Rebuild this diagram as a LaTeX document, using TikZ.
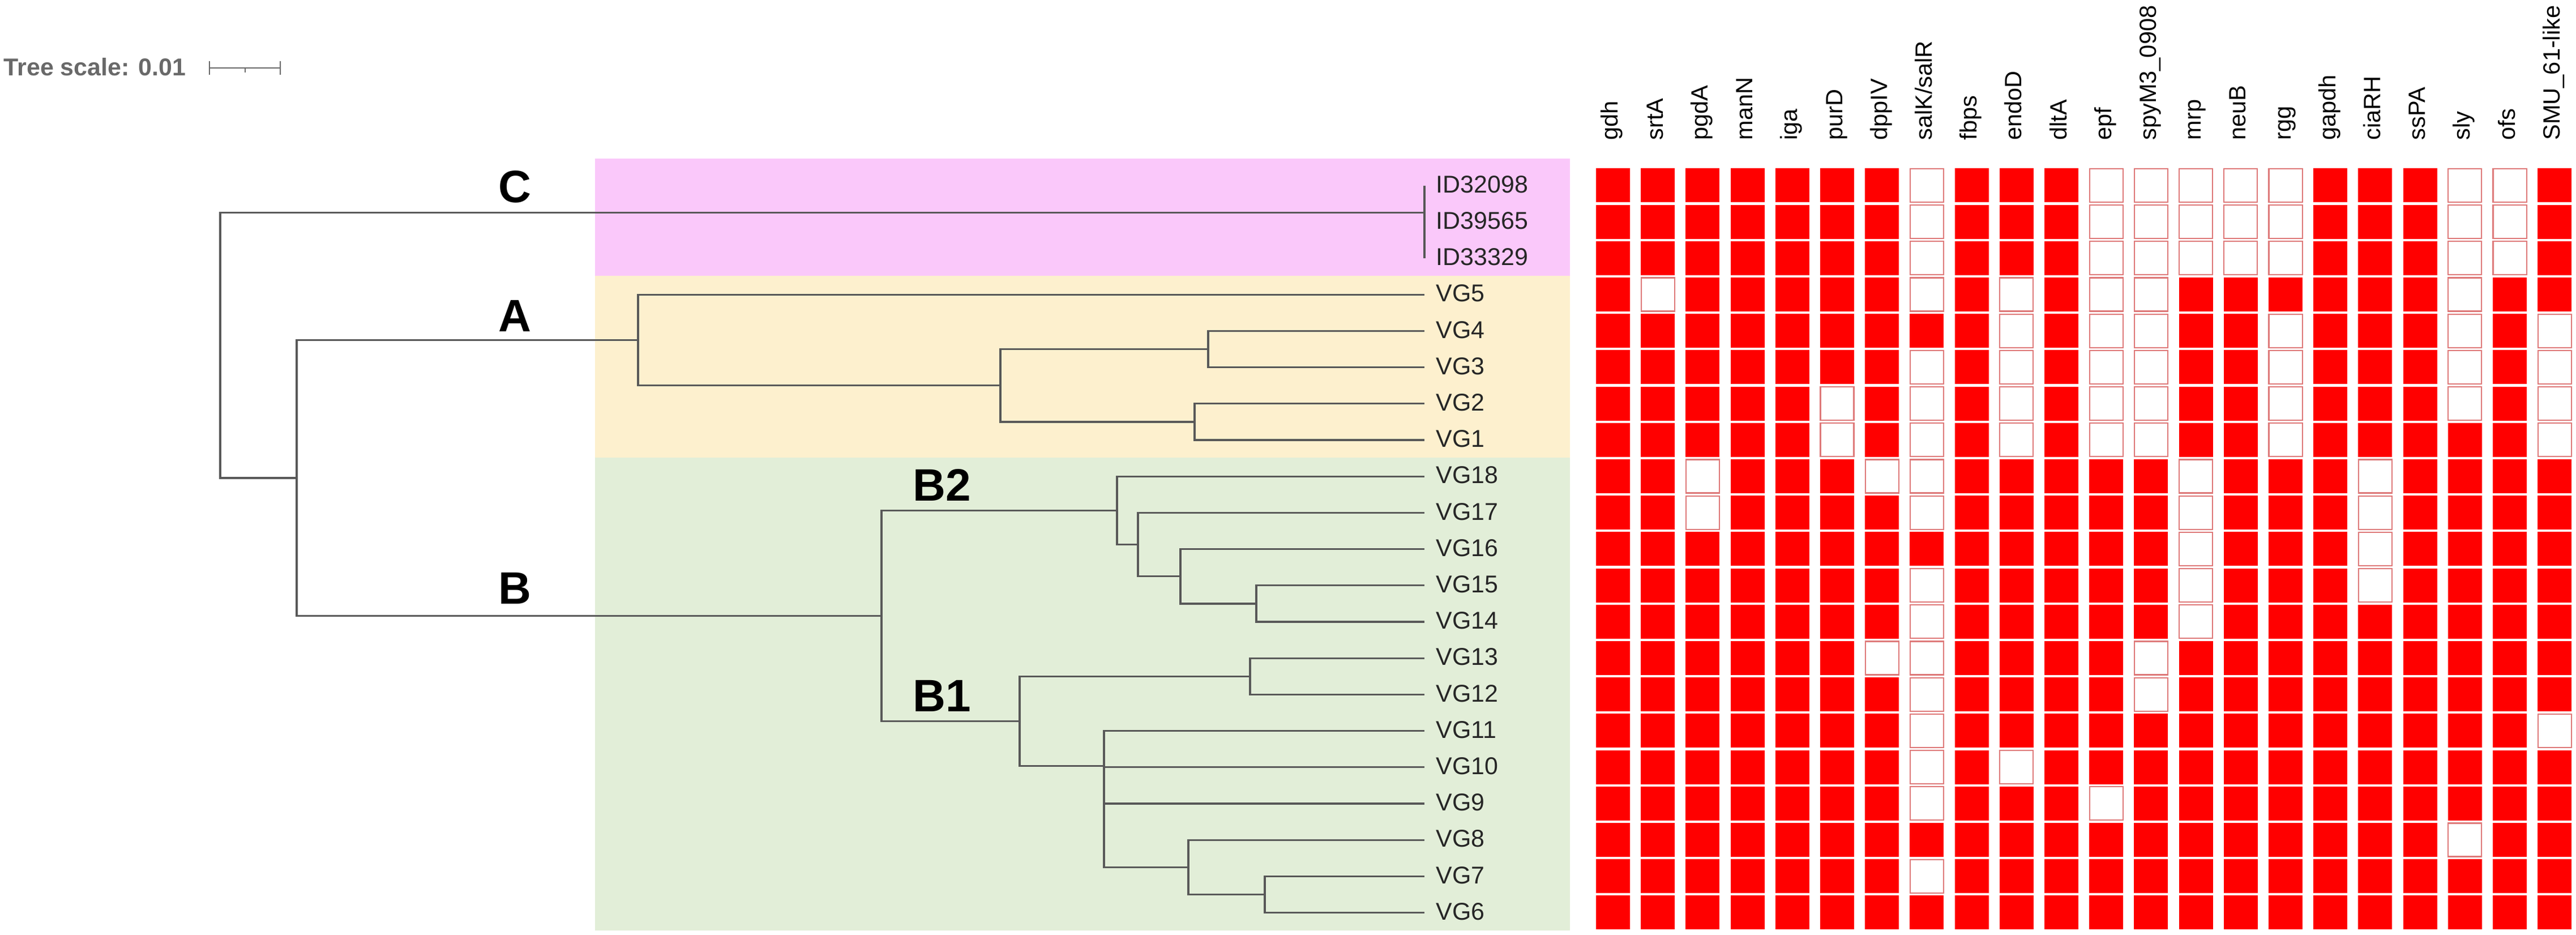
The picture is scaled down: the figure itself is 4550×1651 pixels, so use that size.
\documentclass[tikz,border=0pt]{standalone}
\usepackage{fontspec}
\setmainfont{Liberation Sans}
\usetikzlibrary{positioning}
\definecolor{bandC}{RGB}{250,200,250}
\definecolor{bandA}{RGB}{253,240,206}
\definecolor{bandB}{RGB}{226,238,216}
\definecolor{branchgray}{RGB}{88,88,88}
\definecolor{hitred}{RGB}{255,0,0}
\definecolor{missred}{RGB}{222,120,120}
\definecolor{scalegray}{RGB}{105,105,105}
\tikzset{
  branch/.style={draw=branchgray, line width=0.95pt},
  leaf/.style={anchor=west, inner xsep=0.2cm, inner ysep=0pt, text height=0.72em, text depth=0pt, text=black!85, font=\fontsize{12.2}{14}\selectfont},
  clade/.style={anchor=base, inner sep=0pt, font=\fontsize{22.8}{26}\selectfont\bfseries},
  gene/.style={rotate=90, anchor=west, inner sep=0pt, text height=0.72em, text depth=0.21em, font=\fontsize{11.8}{14}\selectfont},
  cell1/.style={fill=hitred, minimum size=0.6cm, inner sep=0pt},
  cell0/.style={fill=white, draw=missred, line width=0.6pt, minimum size=0.59cm, inner sep=0pt},
}

\begin{document}
\begin{tikzpicture}[x=0.01cm, y=-0.01cm]
      \useasboundingbox (0,0) rectangle (4550,1651);
      %% clade bands
      \fill[bandC] (1051,280) rectangle (2773,487);
      \fill[bandA] (1051,487) rectangle (2773,808);
      \fill[bandB] (1051,808) rectangle (2773,1643);
      %% tree scale
      \node[anchor=base west, inner sep=0pt, text=scalegray, font=\fontsize{12.2}{14}\selectfont\bfseries] (scale) at (6,133) {Tree scale: 0.01};
      \draw[scalegray, line width=0.8pt] (370,108) -- (370,132);
      \draw[scalegray, line width=0.8pt] (370,120) -- (495,120);
      \draw[scalegray, line width=0.8pt] (495,108) -- (495,132);
      \draw[scalegray, line width=0.6pt] (433,120) -- (433,128);
      %%%%%%%%%%%%%%%%%%%%%%%%%%%%%%%%%%%%%%%
      %% leaves
      \node[leaf] (id32098) at (2516,327.6) {ID32098};
      \node[leaf] (id39565) at (2516,391.8) {ID39565};
      \node[leaf] (id33329) at (2516,456.0) {ID33329};
      \node[leaf] (vg5) at (2516,520.2) {VG5};
      \node[leaf] (vg4) at (2516,584.4) {VG4};
      \node[leaf] (vg3) at (2516,648.6) {VG3};
      \node[leaf] (vg2) at (2516,712.8) {VG2};
      \node[leaf] (vg1) at (2516,777.0) {VG1};
      \node[leaf] (vg18) at (2516,841.2) {VG18};
      \node[leaf] (vg17) at (2516,905.4) {VG17};
      \node[leaf] (vg16) at (2516,969.6) {VG16};
      \node[leaf] (vg15) at (2516,1033.8) {VG15};
      \node[leaf] (vg14) at (2516,1098.0) {VG14};
      \node[leaf] (vg13) at (2516,1162.2) {VG13};
      \node[leaf] (vg12) at (2516,1226.4) {VG12};
      \node[leaf] (vg11) at (2516,1290.6) {VG11};
      \node[leaf] (vg10) at (2516,1354.8) {VG10};
      \node[leaf] (vg9) at (2516,1419.0) {VG9};
      \node[leaf] (vg8) at (2516,1483.2) {VG8};
      \node[leaf] (vg7) at (2516,1547.4) {VG7};
      \node[leaf] (vg6) at (2516,1611.6) {VG6};
      %% inner nodes
      \coordinate (root) at (389,609.9);
      \coordinate (nAB) at (524,844.0);
      \coordinate (nC) at (2516,375.8);
      \coordinate (nC2) at (2516,423.9);
      \coordinate (nA) at (1127,600.5);
      \coordinate (nA2) at (1767,680.7);
      \coordinate (nA34) at (2134,616.5);
      \coordinate (nA12) at (2110,744.9);
      \coordinate (nB) at (1557,1087.5);
      \coordinate (nB2) at (1973,901.4);
      \coordinate (nB17) at (2010,961.6);
      \coordinate (nB16) at (2085,1017.8);
      \coordinate (nB1415) at (2219,1065.9);
      \coordinate (nB1) at (1801,1273.6);
      \coordinate (nB1213) at (2208,1194.3);
      \coordinate (nB11) at (1950,1352.8);
      \coordinate (nB10) at (1950,1415.0);
      \coordinate (nB9) at (1950,1475.2);
      \coordinate (nB8) at (2099,1531.4);
      \coordinate (nB67) at (2234,1579.5);
      %% branches
      \draw[branch] (root) |- (nC);
      \draw[branch] (root) |- (nAB);
      \draw[branch] (nC) |- (id32098);
      \draw[branch] (nC) |- (nC2);
      \draw[branch] (nC2) |- (id39565);
      \draw[branch] (nC2) |- (id33329);
      \draw[branch] (nAB) |- (nA);
      \draw[branch] (nAB) |- (nB);
      \draw[branch] (nA) |- (vg5);
      \draw[branch] (nA) |- (nA2);
      \draw[branch] (nA2) |- (nA34);
      \draw[branch] (nA2) |- (nA12);
      \draw[branch] (nA34) |- (vg4);
      \draw[branch] (nA34) |- (vg3);
      \draw[branch] (nA12) |- (vg2);
      \draw[branch] (nA12) |- (vg1);
      \draw[branch] (nB) |- (nB2);
      \draw[branch] (nB) |- (nB1);
      \draw[branch] (nB2) |- (vg18);
      \draw[branch] (nB2) |- (nB17);
      \draw[branch] (nB17) |- (vg17);
      \draw[branch] (nB17) |- (nB16);
      \draw[branch] (nB16) |- (vg16);
      \draw[branch] (nB16) |- (nB1415);
      \draw[branch] (nB1415) |- (vg15);
      \draw[branch] (nB1415) |- (vg14);
      \draw[branch] (nB1) |- (nB1213);
      \draw[branch] (nB1) |- (nB11);
      \draw[branch] (nB1213) |- (vg13);
      \draw[branch] (nB1213) |- (vg12);
      \draw[branch] (nB11) |- (vg11);
      \draw[branch] (nB11) |- (nB10);
      \draw[branch] (nB10) |- (vg10);
      \draw[branch] (nB10) |- (nB9);
      \draw[branch] (nB9) |- (vg9);
      \draw[branch] (nB9) |- (nB8);
      \draw[branch] (nB8) |- (vg8);
      \draw[branch] (nB8) |- (nB67);
      \draw[branch] (nB67) |- (vg7);
      \draw[branch] (nB67) |- (vg6);
      %% clade names
      \node[clade] (labC) at (909,357) {C};
      \node[clade] (labA) at (909,585) {A};
      \node[clade] (labB) at (909,1066) {B};
      \node[clade, anchor=base west] (labB2) at (1612,884) {B2};
      \node[clade, anchor=base west] (labB1) at (1612,1256) {B1};
      %%%%%%%%%%%%%%%%%%%%%%%%%%%%%%%%%%%%%%%
      %% gene names
      \foreach \g [count=\i from 0] in {gdh,srtA,pgdA,manN,iga,purD,dppIV,salK/salR,fbps,endoD,dltA,epf,spyM3\_0908,mrp,neuB,rgg,gapdh,ciaRH,ssPA,sly,ofs,SMU\_61-like}
        \node[gene] (g\i) at ({2849+79.2*\i},248) {\g};
      %% presence / absence
      \foreach \bits [count=\j from 0] in {
        {1,1,1,1,1,1,1,0,1,1,1,0,0,0,0,0,1,1,1,0,0,1},
        {1,1,1,1,1,1,1,0,1,1,1,0,0,0,0,0,1,1,1,0,0,1},
        {1,1,1,1,1,1,1,0,1,1,1,0,0,0,0,0,1,1,1,0,0,1},
        {1,0,1,1,1,1,1,0,1,0,1,0,0,1,1,1,1,1,1,0,1,1},
        {1,1,1,1,1,1,1,1,1,0,1,0,0,1,1,0,1,1,1,0,1,0},
        {1,1,1,1,1,1,1,0,1,0,1,0,0,1,1,0,1,1,1,0,1,0},
        {1,1,1,1,1,0,1,0,1,0,1,0,0,1,1,0,1,1,1,0,1,0},
        {1,1,1,1,1,0,1,0,1,0,1,0,0,1,1,0,1,1,1,1,1,0},
        {1,1,0,1,1,1,0,0,1,1,1,1,1,0,1,1,1,0,1,1,1,1},
        {1,1,0,1,1,1,1,0,1,1,1,1,1,0,1,1,1,0,1,1,1,1},
        {1,1,1,1,1,1,1,1,1,1,1,1,1,0,1,1,1,0,1,1,1,1},
        {1,1,1,1,1,1,1,0,1,1,1,1,1,0,1,1,1,0,1,1,1,1},
        {1,1,1,1,1,1,1,0,1,1,1,1,1,0,1,1,1,1,1,1,1,1},
        {1,1,1,1,1,1,0,0,1,1,1,1,0,1,1,1,1,1,1,1,1,1},
        {1,1,1,1,1,1,1,0,1,1,1,1,0,1,1,1,1,1,1,1,1,1},
        {1,1,1,1,1,1,1,0,1,1,1,1,1,1,1,1,1,1,1,1,1,0},
        {1,1,1,1,1,1,1,0,1,0,1,1,1,1,1,1,1,1,1,1,1,1},
        {1,1,1,1,1,1,1,0,1,1,1,0,1,1,1,1,1,1,1,1,1,1},
        {1,1,1,1,1,1,1,1,1,1,1,1,1,1,1,1,1,1,1,0,1,1},
        {1,1,1,1,1,1,1,0,1,1,1,1,1,1,1,1,1,1,1,1,1,1},
        {1,1,1,1,1,1,1,1,1,1,1,1,1,1,1,1,1,1,1,1,1,1}}
        \foreach \b [count=\i from 0] in \bits
          \node[cell\b] (m-\j-\i) at ({2849+79.2*\i},{327.4+64.2*\j}) {};
\end{tikzpicture}
\end{document}
